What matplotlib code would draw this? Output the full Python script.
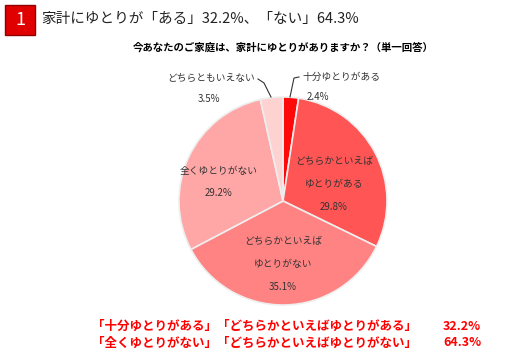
import matplotlib.pyplot as plt
from matplotlib.patches import Rectangle

plt.rcParams['font.family'] = ['Noto Sans CJK JP', 'DejaVu Sans']

W, H = 515, 354

labels = ['十分ゆとりがある', 'どちらかといえば\nゆとりがある', 'どちらかといえば\nゆとりがない',
          '全くゆとりがない', 'どちらともいえない']
values = [2.4, 29.8, 35.1, 29.2, 3.5]
colors = ['#ff0a0a', '#ff5555', '#ff8383', '#ffa6a6', '#ffd2d2']

title = '家計にゆとりが「ある」32.2%、「ない」64.3%'
question = '今あなたのご家庭は、家計にゆとりがありますか？（単一回答）'
summary = ['「十分ゆとりがある」「どちらかといえばゆとりがある」',
           '「全くゆとりがない」「どちらかといえばゆとりがない」']
summary_pct = ['32.2%', '64.3%']

fig = plt.figure(figsize=(W / 100, H / 100), dpi=100)

def px(x, y):
    return x / W, 1 - y / H

# numbered red box
fig.patches.append(Rectangle(px(5, 35), 30 / W, 30 / H, transform=fig.transFigure,
                             facecolor='#e00000', edgecolor='#900000', lw=1))
fig.text(*px(20, 20), '1', color='white', fontsize=13, ha='center', va='center')
fig.text(*px(41, 19), title, fontsize=10.5, ha='left', va='center', color='#222222')
fig.text(*px(283, 48), question, fontsize=7.5, fontweight='bold', ha='center', va='center')

# pie
cx, cy, r = 283, 201, 104
ax = fig.add_axes([(cx - r) / W, 1 - (cy + r) / H, 2 * r / W, 2 * r / H])
wedges, _ = ax.pie(values, colors=colors, startangle=90, counterclock=False,
                   wedgeprops=dict(edgecolor='#eeeeee', linewidth=1.2))
ax.set_aspect('equal')
ax.set_xlim(-1, 1)
ax.set_ylim(-1, 1)
ax.axis('off')

lab_kw = dict(fontsize=7, ha='center', va='center', color='#333333', linespacing=2.6)
# inside labels (pixel coordinates)
fig.text(*px(334, 184), labels[1] + '\n' + f'{values[1]}%', **lab_kw)
fig.text(*px(283, 264), labels[2] + '\n' + f'{values[2]}%', **lab_kw)
fig.text(*px(219, 182), labels[3] + '\n' + f'{values[3]}%', **lab_kw)
# outside labels
fig.text(*px(302, 77), labels[0], fontsize=7, ha='left', va='center', color='#333333')
fig.text(*px(318, 97), f'{values[0]}%', fontsize=7, ha='center', va='center', color='#333333')
fig.text(*px(255, 78), labels[4], fontsize=7, ha='right', va='center', color='#333333')
fig.text(*px(209, 99), f'{values[4]}%', fontsize=7, ha='center', va='center', color='#333333')

# leader lines
for pts in ([(299, 77), (294, 78), (290, 97)], [(258, 79), (264, 83), (271, 97)]):
    xs = [p[0] / W for p in pts]
    ys = [1 - p[1] / H for p in pts]
    fig.lines.append(plt.Line2D(xs, ys, transform=fig.transFigure, color='#333333', lw=0.8))

for i, (s, p) in enumerate(zip(summary, summary_pct)):
    y = 326 + i * 17
    fig.text(*px(92, y), s, fontsize=9, fontweight='bold', color='#ff0000', ha='left', va='center')
    fig.text(*px(481, y), p, fontsize=9, fontweight='bold', color='#ff0000', ha='right', va='center')

fig.savefig('out.png', dpi=100)
